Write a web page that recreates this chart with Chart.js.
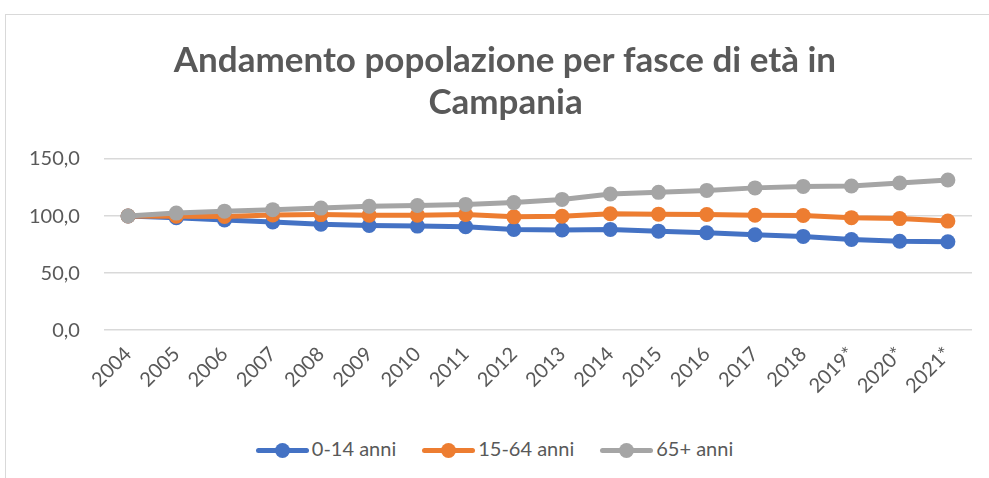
<!DOCTYPE html>
<html>
<head>
<meta charset="utf-8">
<script src="https://cdn.jsdelivr.net/npm/chart.js@4.4.1/dist/chart.umd.min.js"></script>
<style>
  html, body { margin: 0; padding: 0; background: #fff; }
  #wrap { position: relative; width: 989px; height: 478px; overflow: hidden; }
  #frame { position: absolute; left: 5px; top: 14px; width: 1000px; height: 470px; border: 1px solid #d9d9d9; }
  #chartBox { position: absolute; left: 0; top: 0; width: 989px; height: 420px; }
  #legend { position: absolute; left: 0; top: 433px; width: 989px; text-align: center;
            font-family: Lato, sans-serif; font-size: 20px; color: #595959; }
  .item { display: inline-block; margin: 0 13px; vertical-align: middle; }
  .key { display: inline-block; position: relative; width: 53px; height: 15px; vertical-align: middle; margin-right: 3px; }
  .key .ln { position: absolute; left: 0; right: 0; top: 5px; height: 5px; border-radius: 2.5px; }
  .key .dt { position: absolute; left: 19px; top: 0; width: 15px; height: 15px; border-radius: 50%; }
</style>
</head>
<body>
<div id="wrap">
  <div id="frame"></div>
  <div id="chartBox"><canvas id="popChart" width="989" height="420"></canvas></div>
  <div id="legend"></div>
</div>
<script>
// years (asterisk = estimate)
const years = ['2004', '2005', '2006', '2007', '2008', '2009', '2010', '2011', '2012',
               '2013', '2014', '2015', '2016', '2017', '2018', '2019*', '2020*', '2021*'];

// index 2004 = 100
const age0_14  = [100, 98.5, 96.5, 94.8, 92.8, 91.8, 91.2, 90.6, 88.3, 87.8, 88.3, 86.8, 85.4, 83.6, 82.2, 79.5, 78.0, 77.5];
const age15_64 = [100, 99.8, 99.6, 100.9, 101.3, 100.8, 100.8, 101.4, 99.3, 99.8, 102.0, 101.7, 101.4, 100.7, 100.5, 98.6, 97.8, 95.6];
const age65    = [100, 102.6, 104.3, 105.6, 107.0, 108.6, 109.3, 110.2, 111.8, 114.6, 119.3, 120.8, 122.5, 124.7, 126.0, 126.3, 129.0, 131.6];

const yTicks = [0, 50, 100, 150];

const SERIES = [
    { label: '0-14 anni',  data: age0_14,  color: '#4472C4', order: 2 },
    { label: '15-64 anni', data: age15_64, color: '#ED7D31', order: 1 },
    { label: '65+ anni',   data: age65,    color: '#A5A5A5', order: 0 },
];

const textColor = '#595959';
const fontFamily = 'Lato, "Open Sans", sans-serif';
const nudge = '\u00a0\u00a0\u00a0\u00a0'; // title sits a bit right of centre in the original

const datasets = SERIES.map(s => ({
    label: s.label,
    data: s.data,
    borderColor: s.color,
    backgroundColor: s.color,
    borderWidth: 5,
    pointRadius: 7.5,
    pointHoverRadius: 7.5,
    pointBorderWidth: 0,
    tension: 0,
    order: s.order,
}));

new Chart(document.getElementById('popChart').getContext('2d'), {
    type: 'line',
    data: { labels: years, datasets },
    options: {
        responsive: false,
        animation: false,
        layout: { padding: { left: 5, right: 17, top: 20, bottom: 18 } },
        plugins: {
            legend: { display: false },
            tooltip: { enabled: false },
            title: {
                display: true,
                text: [nudge + 'Andamento popolazione per fasce di età in', nudge + 'Campania'],
                color: textColor,
                font: { family: fontFamily, size: 35, weight: 'bold' },
                padding: { top: 20, bottom: 35 },
                lineHeight: 1.25,
            },
        },
        scales: {
            x: {
                offset: true,
                grid: { display: false },
                border: { display: false },
                ticks: {
                    color: textColor,
                    font: { family: fontFamily, size: 20 },
                    maxRotation: 45,
                    minRotation: 45,
                    autoSkip: false,
                    padding: 4,
                },
            },
            y: {
                min: 0,
                max: 150,
                afterBuildTicks: axis => { axis.ticks = yTicks.map(v => ({ value: v })); },
                grid: { color: '#d9d9d9', lineWidth: 1.5, drawTicks: false },
                border: { display: false },
                ticks: {
                    color: textColor,
                    font: { family: fontFamily, size: 20 },
                    padding: 24,
                    callback: v => v.toFixed(1).replace('.', ','),
                },
            },
        },
    },
});

// legend: line with marker, like the original
const legendEl = document.getElementById('legend');
SERIES.forEach(s => {
    const item = document.createElement('span');
    item.className = 'item';
    item.innerHTML = '<span class="key"><span class="ln" style="background:' + s.color + '"></span>' +
        '<span class="dt" style="background:' + s.color + '"></span></span>' + s.label;
    legendEl.appendChild(item);
});
</script>
</body>
</html>
